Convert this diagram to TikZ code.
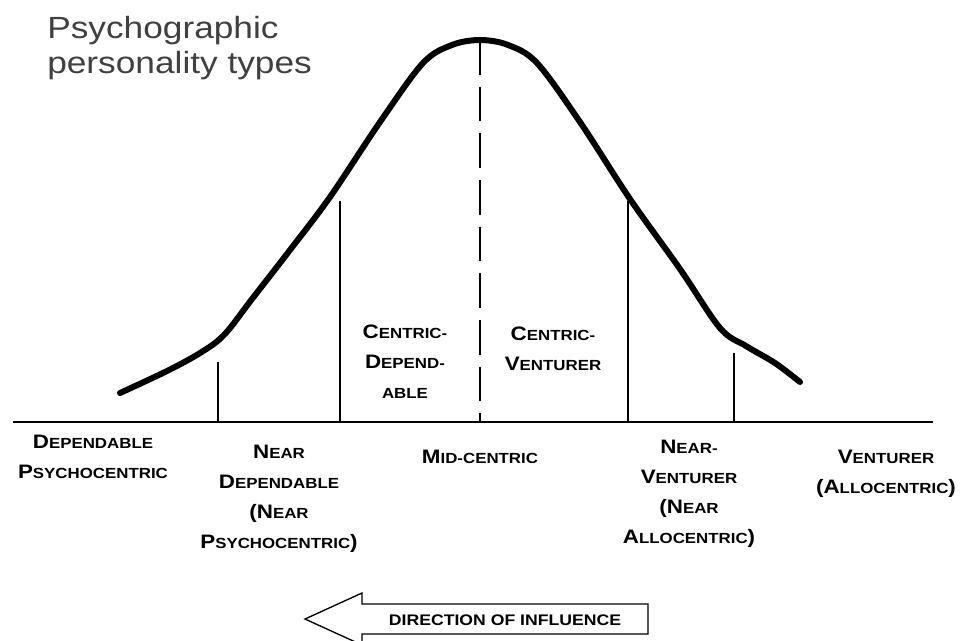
\documentclass[tikz,border=0pt]{standalone}
\usepackage{fontspec}
\setmainfont{Liberation Sans}
\newfontfamily\titlefont{Liberation Sans}[FakeStretch=1.15]
\newfontfamily\labelfont{Liberation Sans}[FakeStretch=1.15]
% bold small-caps look: full-size initial, reduced remainder
\newcommand\Lcap[1]{{\fontsize{14.6}{22.5}\selectfont #1}}
\newcommand\Scap[1]{{\fontsize{11}{22.5}\selectfont #1}}
\usetikzlibrary{calc}
\begin{document}
\begin{tikzpicture}[x=0.75pt,y=-0.75pt,
  bell/.style={line width=4.5pt,line cap=round,line join=round},
  divider/.style={line width=1pt},
  axisline/.style={line width=2.2pt},
  midline/.style={line width=2.2pt,dash pattern=on 26pt off 9pt},
  lbl/.style={font=\labelfont\bfseries\fontsize{14.6}{22.5}\selectfont,align=center,inner sep=0pt,anchor=base},
  titletext/.style={font=\titlefont\fontsize{23}{26.25}\selectfont,text=black!75,align=left,inner sep=0pt,anchor=north west},
  arrowbox/.style={line width=1pt,line join=miter,fill=white},
  arrowtext/.style={font=\labelfont\bfseries\fontsize{11.5}{13}\selectfont,inner sep=0pt,anchor=base}]
\useasboundingbox (0,0) rectangle (961,640);
\clip (0,0) rectangle (961,640);

% title
\node[titletext] (title) at (47,16) {Psychographic\\personality types};

% horizontal axis
\coordinate (axL) at (13,422);
\coordinate (axR) at (933,422);
\draw[axisline] (axL) -- (axR);

% bell curve
\coordinate (peak) at (480,40);
\coordinate (d1) at (218,362);
\coordinate (d2) at (340,201);
\coordinate (d3) at (628,201);
\coordinate (d4) at (734,353);
\draw[bell] plot[smooth,tension=0.55] coordinates {
  (120,393) (167,371) (200,353) (224,335) (252,299) (290,250)
  (330,197) (380,122) (423,63) (452,45) (480,40) (508,45) (537,63)
  (580,122) (630,199) (680,269) (720,328) (746,346) (775,363) (800,382)};

% peak line and sector dividers
\draw[midline] (peak) -- (peak |- axL);
\foreach \d in {d1,d2,d3,d4}
  \draw[divider] (\d) -- (\d |- axL);

% sector labels above the axis
\node[lbl] (cdep) at (405,398) {\Lcap{C}\Scap{ENTRIC-}\\\Lcap{D}\Scap{EPEND-}\\\Scap{ABLE}};
\node[lbl] (cven) at (553,370) {\Lcap{C}\Scap{ENTRIC-}\\\Lcap{V}\Scap{ENTURER}};

% type labels below the axis
\node[lbl] (dep) at (93,478) {\Lcap{D}\Scap{EPENDABLE}\\\Lcap{P}\Scap{SYCHOCENTRIC}};
\node[lbl] (ndep) at (279,548) {\Lcap{N}\Scap{EAR}\\\Lcap{D}\Scap{EPENDABLE}\\\Lcap{(N}\Scap{EAR}\\\Lcap{P}\Scap{SYCHOCENTRIC}\Lcap{)}};
\node[lbl] (mid) at (480,463) {\Lcap{M}\Scap{ID-CENTRIC}};
\node[lbl] (nven) at (689,543) {\Lcap{N}\Scap{EAR-}\\\Lcap{V}\Scap{ENTURER}\\\Lcap{(N}\Scap{EAR}\\\Lcap{A}\Scap{LLOCENTRIC}\Lcap{)}};
\node[lbl] (ven) at (886,493) {\Lcap{V}\Scap{ENTURER}\\\Lcap{(A}\Scap{LLOCENTRIC}\Lcap{)}};

% direction arrow
\draw[arrowbox] (305,619) -- (362,593) -- (362,604) -- (648,604) -- (648,634)
  -- (362,634) -- (362,645) -- cycle;
\node[arrowtext] (dir) at (505,625) {DIRECTION OF INFLUENCE};
\end{tikzpicture}
\end{document}
